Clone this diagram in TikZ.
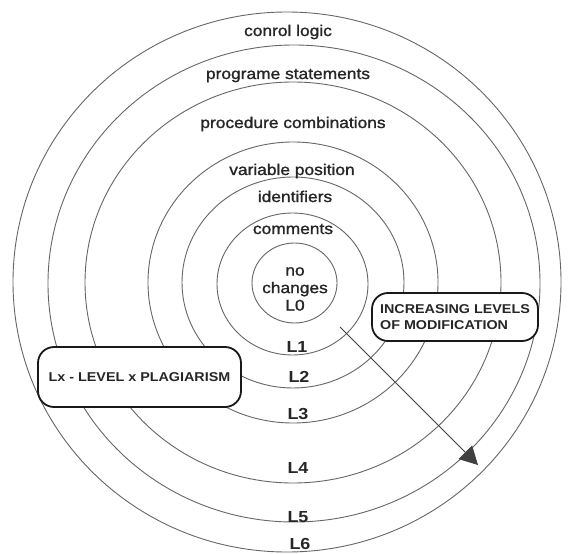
\documentclass[tikz,border=0pt]{standalone}
\usepackage{fontspec}
\setmainfont{Liberation Sans}
\newfontfamily\labfont[FakeStretch=1.12,FakeBold=1.3]{Liberation Sans}
\newfontfamily\lvlfont[FakeStretch=1.12]{Liberation Sans}
\usetikzlibrary{arrows.meta}
\begin{document}
\begin{tikzpicture}[x=1pt,y=-1pt,
  ring/.style={draw=black!60, line width=0.9pt},
  lab/.style={font={\labfont\fontsize{15.5}{17.5}\selectfont}, text=black!85, inner sep=0pt, anchor=base},
  lvl/.style={font={\lvlfont\bfseries\fontsize{16}{18}\selectfont}, text=black!85, inner sep=0pt, anchor=base},
  box/.style={draw=black!90, line width=1.8pt, rounded corners=16pt, fill=white, text=black!85,
    font={\lvlfont\bfseries\fontsize{12.8}{16}\selectfont}},
  arr/.style={draw=black!75, line width=0.8pt, -{Triangle[length=18pt,width=19pt]}}]
\fill[white] (0,0) rectangle (569,553);
\useasboundingbox (0,0) rectangle (569,553);
% rings
\draw[ring] (287,282) ellipse [x radius=274, y radius=270];
\draw[ring] (294,283.5) ellipse [x radius=246, y radius=238.5];
\draw[ring] (293,282.5) ellipse [x radius=208, y radius=200.5];
\draw[ring] (293,282.5) ellipse [x radius=145, y radius=140.5];
\draw[ring] (293,282.5) ellipse [x radius=111, y radius=105.5];
\draw[ring] (292.5,284) ellipse [x radius=75.5, y radius=71];
\draw[ring] (294.5,283) ellipse [x radius=42.5, y radius=40];
% top labels
\node[lab] (t6) at (288,36) {conrol logic};
\node[lab] (t5) at (288,79) {programe statements};
\node[lab] (t4) at (293,128) {procedure combinations};
\node[lab] (t3) at (292,175) {variable position};
\node[lab] (t2) at (295,202) {identifiers};
\node[lab] (t1) at (293,234) {comments};
\node[lab, anchor=center, align=center] (t0) at (295,289) {no\\changes\\L0};
% level labels
\node[lvl] (l1) at (297,352) {L1};
\node[lvl] (l2) at (299,382) {L2};
\node[lvl] (l3) at (298,419) {L3};
\node[lvl] (l4) at (298,473) {L4};
\node[lvl] (l5) at (298,522) {L5};
\node[lvl] (l6) at (300,549) {L6};
% boxes
\node[box, minimum width=166pt, minimum height=48pt, align=left]
  (inc) at (455,317) {INCREASING LEVELS\\OF MODIFICATION};
\node[box, minimum width=203pt, minimum height=60pt, align=center]
  (lx) at (139.5,377) {Lx - LEVEL x PLAGIARISM};
% arrow
\coordinate (as) at (340,327);
\coordinate (ae) at (478,465);
\draw[arr] (as) -- (ae);
\end{tikzpicture}
\end{document}
